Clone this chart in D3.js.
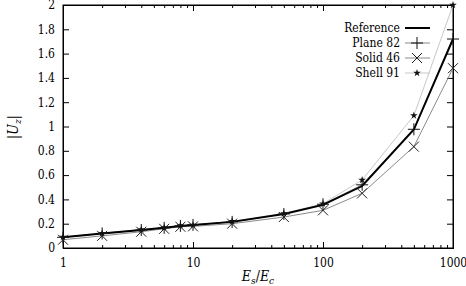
<!DOCTYPE html>
<html><head><meta charset="utf-8">
<script src="https://cdn.jsdelivr.net/npm/d3@7"></script>
<style>body{margin:0;background:#fff}svg{display:block}</style>
</head><body><svg id="c" width="466" height="286"></svg>
<script>
const xs = [1, 2, 4, 6, 8, 10, 20, 50, 100, 200, 500, 1000];
const reference = [0.088, 0.12, 0.148, 0.166, 0.182, 0.19, 0.215, 0.28, 0.355, 0.51, 0.975, 1.72];
const plane82 = [0.088, 0.12, 0.148, 0.166, 0.182, 0.19, 0.215, 0.28, 0.36, 0.52, 0.977, 1.72];
const solid46 = [0.068, 0.10, 0.134, 0.158, 0.175, 0.178, 0.2, 0.255, 0.31, 0.45, 0.834, 1.48];
const shell91 = [0.09, 0.122, 0.152, 0.168, 0.185, 0.19, 0.22, 0.285, 0.365, 0.56, 1.09, 2.0];
const xTicks = [1, 10, 100, 1000];
const yTicks = [0, 0.2, 0.4, 0.6, 0.8, 1, 1.2, 1.4, 1.6, 1.8, 2];
const names = ["Reference", "Plane 82", "Solid 46", "Shell 91"];

const FONT = "'DejaVu Serif Condensed', 'DejaVu Serif', serif";
const L = 63, R = 453, T = 5, B = 248;
const svg = d3.select("#c").attr("font-family", FONT).attr("font-stretch", "condensed");
const x = d3.scaleLog().domain([1, 1000]).range([L, R]);
const y = d3.scaleLinear().domain([0, 2]).range([B, T]);

const minor = [];
for (let d = 1; d < 1000; d *= 10) for (let k = 2; k <= 9; k++) minor.push(d * k);

const ax = svg.append("g");
ax.append("g").attr("transform", `translate(0,${B})`)
  .call(d3.axisBottom(x).tickValues(xTicks).tickFormat(d3.format("d")).tickSize(-6).tickPadding(10));
ax.append("g").attr("transform", `translate(0,${B})`)
  .call(d3.axisBottom(x).tickValues(minor).tickFormat("").tickSize(-3));
ax.append("g").attr("transform", `translate(0,${T})`)
  .call(d3.axisTop(x).tickValues(xTicks).tickFormat("").tickSize(-6));
ax.append("g").attr("transform", `translate(0,${T})`)
  .call(d3.axisTop(x).tickValues(minor).tickFormat("").tickSize(-3));
ax.append("g").attr("transform", `translate(${L},0)`)
  .call(d3.axisLeft(y).tickValues(yTicks).tickFormat(d => d3.format("")(+d.toFixed(1))).tickSize(-6).tickPadding(8));
ax.append("g").attr("transform", `translate(${R},0)`)
  .call(d3.axisRight(y).tickValues(yTicks).tickFormat("").tickSize(-6));
ax.selectAll("g").attr("font-family", FONT);
ax.selectAll(".domain").attr("stroke", "#000");
ax.selectAll(".tick line").attr("stroke", "#000");
ax.selectAll(".tick text").attr("font-size", 12).attr("font-family", FONT).attr("fill", "#000");
svg.append("rect").attr("x", L).attr("y", T).attr("width", R - L).attr("height", B - T)
  .attr("fill", "none").attr("stroke", "#000").attr("stroke-width", 1);

const line = d3.line().x((d, i) => x(xs[i])).y(d => y(d));
const series = [
  {v: shell91, c: "#c8c8c8", w: 1, m: "star"},
  {v: solid46, c: "#8a8a8a", w: 1, m: "x"},
  {v: plane82, c: "#8a8a8a", w: 1, m: "plus"},
  {v: reference, c: "#000", w: 2, m: null}
];
function marker(g, type, cx, cy) {
  if (type === "plus") {
    g.append("path").attr("d", `M${cx-6},${cy}H${cx+6}M${cx},${cy-6}V${cy+6}`).attr("stroke", "#111").attr("stroke-width", 1).attr("fill", "none");
  } else if (type === "x") {
    g.append("path").attr("d", `M${cx-5},${cy-5}L${cx+5},${cy+5}M${cx-5},${cy+5}L${cx+5},${cy-5}`).attr("stroke", "#222").attr("stroke-width", 1).attr("fill", "none");
  } else if (type === "star") {
    g.append("path").attr("d", d3.symbol(d3.symbolStar, 18)()).attr("transform", `translate(${cx},${cy})`).attr("fill", "#111");
  }
}
series.forEach(s => {
  svg.append("path").datum(s.v).attr("d", line).attr("fill", "none").attr("stroke", s.c).attr("stroke-width", s.w);
});
const mg = svg.append("g");
[series[2], series[1], series[0]].forEach(s => {
  s.v.forEach((v, i) => marker(mg, s.m, x(xs[i]), y(v)));
});

const lg = svg.append("g");
const legendMarks = [null, "plus", "x", "star"];
const legendColors = ["#000", "#8a8a8a", "#8a8a8a", "#c8c8c8"];
names.forEach((n, i) => {
  const ly = 28 + i * 15;
  lg.append("text").attr("x", 400).attr("y", ly + 4).attr("text-anchor", "end").attr("font-size", 12).attr("font-family", FONT).text(n);
  lg.append("line").attr("x1", 405).attr("x2", 430).attr("y1", ly).attr("y2", ly)
    .attr("stroke", legendColors[i]).attr("stroke-width", i === 0 ? 2 : 1);
  if (legendMarks[i]) marker(lg, legendMarks[i], 417, ly);
});

svg.append("text").attr("x", 258).attr("y", 281).attr("text-anchor", "middle").attr("font-size", 14).attr("font-family", FONT)
  .html('<tspan font-style="italic">E</tspan><tspan font-style="italic" font-size="10" dy="3">s</tspan><tspan dy="-3">/</tspan><tspan font-style="italic">E</tspan><tspan font-style="italic" font-size="10" dy="3">c</tspan>');
svg.append("text").attr("transform", "translate(18,127) rotate(-90)").attr("text-anchor", "middle").attr("font-size", 14).attr("font-family", FONT)
  .html('|<tspan font-style="italic">U</tspan><tspan font-style="italic" font-size="10" dy="3">z</tspan><tspan dy="-3">|</tspan>');
</script></body></html>
